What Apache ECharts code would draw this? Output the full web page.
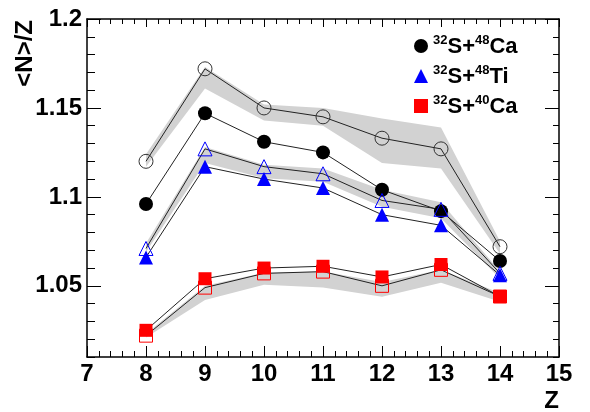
<!DOCTYPE html>
<html>
<head>
<meta charset="utf-8">
<script src="https://cdn.jsdelivr.net/npm/echarts@6/dist/echarts.min.js"></script>
<style>
  html, body { margin: 0; padding: 0; background: #fff; }
  #main { width: 590px; height: 412px; }
</style>
</head>
<body>
<div id="main"></div>
<script>
// Z values on the x axis
var zVals = [8, 9, 10, 11, 12, 13, 14];

// filled symbols
var ca48 = [1.096, 1.147, 1.131, 1.125, 1.104, 1.092, 1.064];
var ti48 = [1.066, 1.117, 1.110, 1.105, 1.090, 1.084, 1.056];
var ca40 = [1.025, 1.054, 1.060, 1.061, 1.055, 1.062, 1.044];

// open symbols
var ca48Open = [1.120, 1.172, 1.150, 1.145, 1.133, 1.127, 1.072];
var ti48Open = [1.071, 1.127, 1.117, 1.113, 1.098, 1.093, 1.057];
var ca40Open = [1.022, 1.049, 1.057, 1.058, 1.050, 1.059, 1.044];

// grey bands (low / high edge)
var ca48BandLo = [1.117, 1.161, 1.143, 1.140, 1.119, 1.116, 1.068];
var ca48BandHi = [1.124, 1.173, 1.152, 1.150, 1.144, 1.139, 1.075];
var ti48BandLo = [1.069, 1.119, 1.1105, 1.1085, 1.0944, 1.088, 1.054];
var ti48BandHi = [1.074, 1.128, 1.118, 1.116, 1.104, 1.097, 1.058];
var ca40BandLo = [1.021, 1.042, 1.0506, 1.049, 1.0438, 1.0517, 1.041];
var ca40BandHi = [1.023, 1.050, 1.0573, 1.058, 1.0522, 1.059, 1.046];

// axis ticks
var yMajor = [1.05, 1.1, 1.15, 1.2];

var FONT = 'Liberation Sans';

function pts(arr) {
    return zVals.map(function (z, i) { return [z, arr[i]]; });
}

// band drawn as one polygon: upper edge left->right, lower edge back
function band(lo, hi) {
    return {
        type: 'custom',
        silent: true,
        z: 1,
        data: zVals.map(function (z, i) { return [z, lo[i], hi[i]]; }),
        encode: {x: 0, y: [1, 2]},
        renderItem: function (params, api) {
            if (params.dataIndex !== 0) return;
            var poly = [];
            for (var i = 0; i < zVals.length; i++) poly.push(api.coord([zVals[i], hi[i]]));
            for (var j = zVals.length - 1; j >= 0; j--) poly.push(api.coord([zVals[j], lo[j]]));
            return {
                type: 'polygon',
                shape: {points: poly},
                style: {fill: '#d2d2d2', stroke: null}
            };
        }
    };
}

function graph(name, arr, symbol, size, fill, border) {
    return {
        type: 'line', name: name, data: pts(arr),
        symbol: symbol, symbolSize: size,
        lineStyle: {color: '#222', width: 1},
        itemStyle: {color: fill, borderColor: border, borderWidth: border ? 1 : 0},
        z: 3
    };
}

var myChart = echarts.init(document.getElementById('main'));

var legendRich = {
    sup: {fontFamily: FONT, fontWeight: 'bold', fontSize: 13, color: '#000', verticalAlign: 'top', lineHeight: 12},
    main: {fontFamily: FONT, fontWeight: 'bold', fontSize: 22, color: '#000', verticalAlign: 'bottom', lineHeight: 24}
};
var legendText = {
    ca48: '{sup|32}{main|S+}{sup|48}{main|Ca}',
    ti48: '{sup|32}{main|S+}{sup|48}{main|Ti}',
    ca40: '{sup|32}{main|S+}{sup|40}{main|Ca}'
};

var option = {
    animation: false,
    backgroundColor: '#fff',
    grid: {left: 87, right: 31, top: 19, bottom: 55},
    legend: {
        orient: 'vertical',
        left: 409, top: 29,
        itemWidth: 14, itemHeight: 14,
        itemGap: 6,
        data: [
            {name: 'ca48', icon: 'circle'},
            {name: 'ti48', icon: 'triangle'},
            {name: 'ca40', icon: 'rect'}
        ],
        formatter: function (n) { return legendText[n]; },
        textStyle: {rich: legendRich}
    },
    xAxis: [{
        type: 'value', min: 7, max: 15, interval: 1, position: 'bottom',
        axisLine: {lineStyle: {color: '#000', width: 1.5}},
        axisTick: {inside: true, length: 11, lineStyle: {color: '#000'}},
        minorTick: {show: true, splitNumber: 5, length: 6, lineStyle: {color: '#000'}},
        splitLine: {show: false},
        axisLabel: {color: '#000', fontFamily: FONT, fontWeight: 'bold', fontSize: 24, margin: 5}
    }, {
        type: 'value', min: 7, max: 15, interval: 1, position: 'top',
        axisLine: {lineStyle: {color: '#000', width: 1.5}},
        axisTick: {inside: true, length: 8, lineStyle: {color: '#000'}},
        minorTick: {show: true, splitNumber: 5, length: 5, lineStyle: {color: '#000'}},
        splitLine: {show: false},
        axisLabel: {show: false}
    }],
    yAxis: [{
        type: 'value', min: 1.01, max: 1.2, interval: 0.01, position: 'left',
        axisLine: {show: true, lineStyle: {color: '#000', width: 1.5}},
        axisTick: {inside: true, length: 8, lineStyle: {color: '#000'}},
        splitLine: {show: false},
        axisLabel: {show: false}
    }, {
        type: 'value', min: 1.01, max: 1.2, position: 'left',
        axisLine: {show: false},
        axisTick: {inside: true, length: 14, customValues: yMajor, lineStyle: {color: '#000'}},
        splitLine: {show: false},
        axisLabel: {customValues: yMajor, color: '#000', fontFamily: FONT, fontWeight: 'bold', fontSize: 24, margin: 5}
    }, {
        type: 'value', min: 1.01, max: 1.2, interval: 0.01, position: 'right',
        axisLine: {show: true, lineStyle: {color: '#000', width: 1.5}},
        axisTick: {inside: true, length: 6, lineStyle: {color: '#000'}},
        splitLine: {show: false},
        axisLabel: {show: false}
    }, {
        type: 'value', min: 1.01, max: 1.2, position: 'right',
        axisLine: {show: false},
        axisTick: {inside: true, length: 14, customValues: yMajor, lineStyle: {color: '#000'}},
        splitLine: {show: false},
        axisLabel: {show: false}
    }],
    graphic: [{
        type: 'text', x: 25, y: 20, rotation: Math.PI / 2,
        style: {text: '<N>/Z', font: 'bold 24px "Liberation Sans"', fill: '#000', align: 'right', verticalAlign: 'middle'}
    }, {
        type: 'text', x: 559, y: 389,
        style: {text: 'Z', font: 'bold 24px "Liberation Sans"', fill: '#000', align: 'right', verticalAlign: 'top'}
    }],
    series: [
        band(ca48BandLo, ca48BandHi),
        band(ti48BandLo, ti48BandHi),
        band(ca40BandLo, ca40BandHi),
        graph('ca48open', ca48Open, 'circle', 14, 'rgba(0,0,0,0)', '#333'),
        graph('ca48', ca48, 'circle', 14, '#000', null),
        graph('ti48open', ti48Open, 'triangle', 14, 'rgba(0,0,0,0)', '#0000ff'),
        graph('ti48', ti48, 'triangle', 14, '#0000ff', null),
        graph('ca40open', ca40Open, 'rect', 13, 'rgba(0,0,0,0)', '#ff0000'),
        graph('ca40', ca40, 'rect', 13, '#ff0000', null)
    ]
};

myChart.setOption(option);
</script>
</body>
</html>
